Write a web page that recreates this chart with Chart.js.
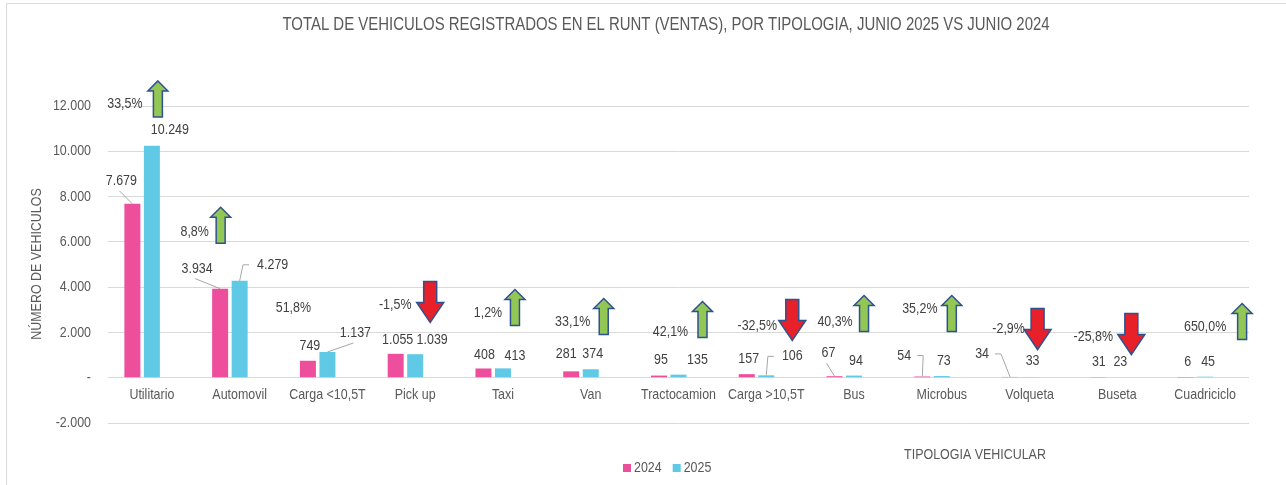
<!DOCTYPE html>
<html>
<head>
<meta charset="utf-8">
<script src="https://cdn.jsdelivr.net/npm/chart.js@4.4.1/dist/chart.umd.min.js"></script>
<style>
    html, body { margin: 0; padding: 0; background: #fff; }
</style>
</head>
<body>
<canvas id="runtChart" width="1286" height="485"></canvas>
<script>
const categories = ['Utilitario', 'Automovil', 'Carga <10,5T', 'Pick up', 'Taxi', 'Van', 'Tractocamion',
    'Carga >10,5T', 'Bus', 'Microbus', 'Volqueta', 'Buseta', 'Cuadriciclo'];
const ventas2024 = [7679, 3934, 749, 1055, 408, 281, 95, 157, 67, 54, 34, 31, 6];
const ventas2025 = [10249, 4279, 1137, 1039, 413, 374, 135, 106, 94, 73, 33, 23, 45];
const variacion = ['33,5%', '8,8%', '51,8%', '-1,5%', '1,2%', '33,1%', '42,1%', '-32,5%', '40,3%', '35,2%', '-2,9%', '-25,8%', '650,0%'];
const tendencia = ['up', 'up', null, 'down', 'up', 'up', 'up', 'down', 'up', 'up', 'down', 'down', 'up'];
const yTickValues = [-2000, 0, 2000, 4000, 6000, 8000, 10000, 12000];

// hand placement of the labels and arrows (offset px from category centre, height in axis units)
const arrowPos = [[6, 13107], [-19, 7528], null, [15, 4251], [12, 3897], [13, 3498], [24, 3365],
    [26, 3454], [10, 3631], [10, 3631], [8, 3055], [14, 2834], [37, 3277]];
const pctPos = [[-27, 12089], [-45, 6421], [-34, 3100], [-20, 3233], [-15, 2878], [-18, 2480], [-8, 2037],
    [-9, 2303], [-19, 2480], [-22, 3055], [-21, 2170], [-24, 1816], [0, 2258]];
// [dx, dy, leader] relative to the bar top
const lbl2024 = [[-11, -23, 'diag'], [-23, -20, 'diag'], [2, -15], [2, -14], [1, -14], [-5, -17], [2, -16],
    [2, -15], [-6, -23, 'diag'], [-18, -21, 'elbowR'], [-28, -23, 'elbowR'], [1, -15], [2, -16]];
const lbl2025 = [[18, -16], [33, -16, 'elbowL'], [28, -19, 'diag'], [17, -14], [12, -13], [2, -15], [19, -15],
    [26, -19, 'elbowL'], [2, -15], [2, -15], [3, -16], [3, -15], [3, -15]];

const FONT = '"Liberation Sans", Arial, sans-serif';
const NARROW = 0.83; // fake Arial Narrow
const PINK = '#EE4F9C';
const CYAN = '#60C9E6';

function miles(v) {
    if (v === 0) return '-';
    const s = Math.abs(v).toString().replace(/\B(?=(\d{3})+(?!\d))/g, '.');
    return (v < 0 ? '-' : '') + s;
}

function text(ctx, str, x, y, size, align, color) {
    ctx.save();
    ctx.font = size + 'px ' + FONT;
    ctx.textAlign = align || 'center';
    ctx.textBaseline = 'middle';
    ctx.fillStyle = color || '#404040';
    ctx.translate(x, y);
    ctx.scale(NARROW, 1);
    ctx.fillText(str, 0, 0);
    const w = ctx.measureText(str).width * NARROW;
    ctx.restore();
    return w;
}

function drawArrow(ctx, x, top, dir) {
    const up = dir === 'up';
    const h = up ? 36 : 41;
    const head = up ? 10 : 20;
    const hw = up ? 10 : 13.5;
    const sw = up ? 4.5 : 6.5;
    ctx.beginPath();
    if (up) {
        ctx.moveTo(x, top);
        ctx.lineTo(x + hw, top + head);
        ctx.lineTo(x + sw, top + head);
        ctx.lineTo(x + sw, top + h);
        ctx.lineTo(x - sw, top + h);
        ctx.lineTo(x - sw, top + head);
        ctx.lineTo(x - hw, top + head);
    } else {
        ctx.moveTo(x - sw, top);
        ctx.lineTo(x + sw, top);
        ctx.lineTo(x + sw, top + h - head);
        ctx.lineTo(x + hw, top + h - head);
        ctx.lineTo(x, top + h);
        ctx.lineTo(x - hw, top + h - head);
        ctx.lineTo(x - sw, top + h - head);
    }
    ctx.closePath();
    ctx.fillStyle = up ? '#92C756' : '#E8202A';
    ctx.fill();
    ctx.lineWidth = 1.5;
    ctx.strokeStyle = '#2F528F';
    ctx.stroke();
}

function drawValue(ctx, bar, str, pos) {
    const lx = bar.x + pos[0];
    const ly = bar.y + pos[1];
    const w = text(ctx, str, lx, ly, 15);
    if (!pos[2]) return;
    ctx.beginPath();
    if (pos[2] === 'diag') {
        ctx.moveTo(lx - 2, ly + 10);
    } else if (pos[2] === 'elbowL') {
        ctx.moveTo(lx - w / 2 - 8, ly);
        ctx.lineTo(lx - w / 2 - 14, ly);
    } else {
        ctx.moveTo(lx + w / 2 + 6, ly);
        ctx.lineTo(lx + w / 2 + 12, ly);
    }
    ctx.lineTo(bar.x, bar.y);
    ctx.strokeStyle = '#A6A6A6';
    ctx.lineWidth = 1;
    ctx.stroke();
}

const overlay = {
    id: 'overlay',
    afterDatasetsDraw(chart) {
        const ctx = chart.ctx;
        const x = chart.scales.x;
        const y = chart.scales.y;
        ctx.save();

        // frame
        ctx.strokeStyle = '#D9D9D9';
        ctx.lineWidth = 1;
        ctx.beginPath();
        ctx.moveTo(6.5, 485);
        ctx.lineTo(6.5, 3.5);
        ctx.lineTo(1286, 3.5);
        ctx.stroke();

        text(ctx, 'TOTAL DE VEHICULOS REGISTRADOS EN EL RUNT (VENTAS), POR TIPOLOGIA, JUNIO 2025 VS JUNIO 2024', 666, 25, 18, 'center', '#595959');

        // y ticks from the scale
        y.ticks.forEach(t => text(ctx, miles(t.value), 91, y.getPixelForValue(t.value), 15, 'right', '#595959'));
        categories.forEach((c, i) => text(ctx, c, x.getPixelForValue(i), y.getPixelForValue(0) + 17, 15, 'center', '#595959'));
        text(ctx, 'TIPOLOGIA VEHICULAR', 975, 455, 15, 'center', '#595959');

        ctx.save();
        ctx.translate(37, 264);
        ctx.rotate(-Math.PI / 2);
        text(ctx, 'NÚMERO DE VEHICULOS', 0, 0, 15, 'center', '#595959');
        ctx.restore();

        // legend
        const items = chart.data.datasets.filter(d => d.label !== 'Variación');
        let lx = 623;
        items.forEach(d => {
            ctx.fillStyle = d.backgroundColor;
            ctx.fillRect(lx, 464, 8, 8);
            lx += 11 + text(ctx, d.label, lx + 11, 468, 15, 'left', '#595959') + 11;
        });

        // data labels
        const m0 = chart.getDatasetMeta(0).data;
        const m1 = chart.getDatasetMeta(1).data;
        categories.forEach((c, i) => {
            drawValue(ctx, m0[i], miles(ventas2024[i]), lbl2024[i]);
            drawValue(ctx, m1[i], miles(ventas2025[i]), lbl2025[i]);
        });

        // variation labels and arrows
        categories.forEach((c, i) => {
            const cx = x.getPixelForValue(i);
            text(ctx, variacion[i], cx + pctPos[i][0], y.getPixelForValue(pctPos[i][1]), 15);
            if (tendencia[i] && arrowPos[i]) {
                drawArrow(ctx, cx + arrowPos[i][0], y.getPixelForValue(arrowPos[i][1]), tendencia[i]);
            }
        });
        ctx.restore();
    }
};

new Chart(document.getElementById('runtChart'), {
    type: 'bar',
    data: {
        labels: categories,
        datasets: [
            { label: '2024', data: ventas2024, backgroundColor: PINK },
            { label: '2025', data: ventas2025, backgroundColor: CYAN },
            { label: 'Variación', data: categories.map(() => null), backgroundColor: 'rgba(0,0,0,0)' }
        ]
    },
    options: {
        responsive: false,
        animation: false,
        devicePixelRatio: 1,
        layout: { padding: { left: 0, right: 37, top: 106, bottom: 62 } },
        datasets: { bar: { categoryPercentage: 0.667, barPercentage: 0.82 } },
        plugins: { legend: { display: false }, title: { display: false }, tooltip: { enabled: false } },
        scales: {
            x: { display: false },
            y: {
                min: -2000,
                max: 12000,
                afterFit(scale) { scale.width = 108; },
                afterBuildTicks(scale) { scale.ticks = yTickValues.map(v => ({ value: v })); },
                border: { display: false },
                grid: { color: '#D9D9D9', drawTicks: false },
                ticks: { display: false }
            }
        }
    },
    plugins: [overlay]
});
</script>
</body>
</html>
